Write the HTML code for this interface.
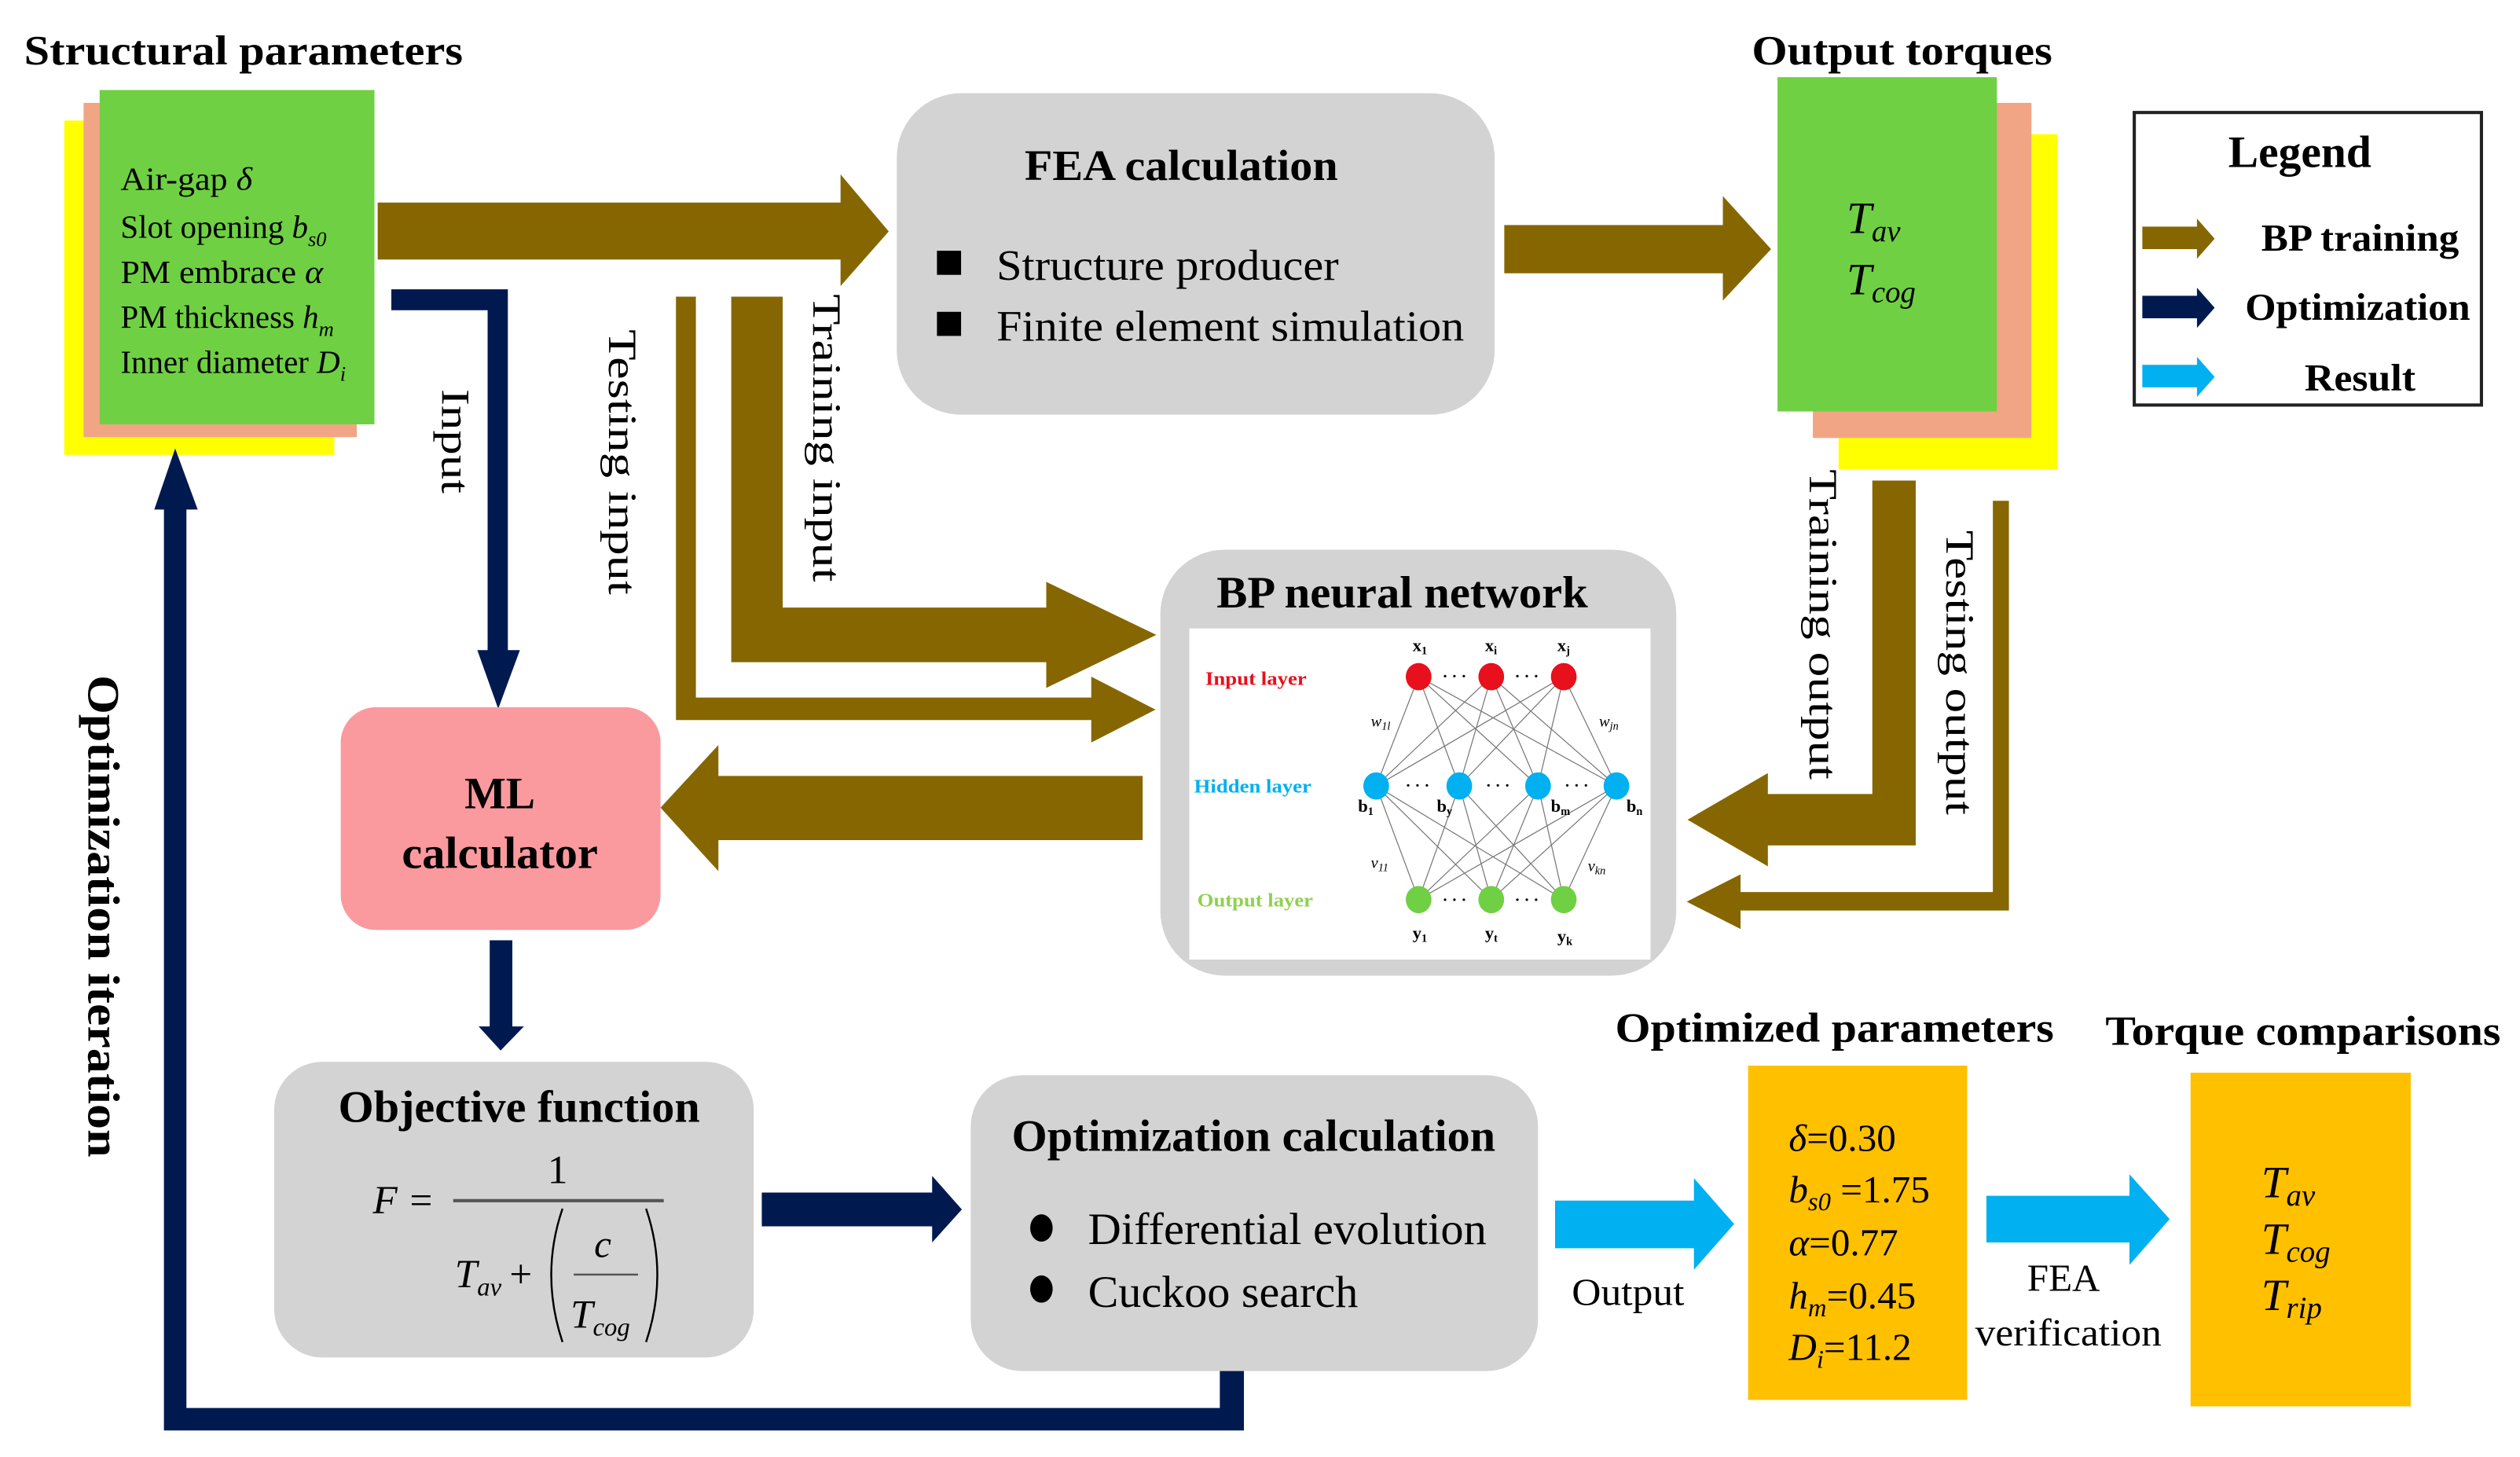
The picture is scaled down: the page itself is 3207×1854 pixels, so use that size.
<!DOCTYPE html>
<html><head><meta charset="utf-8"><style>
html,body{margin:0;padding:0;background:#fff;}
svg{display:block;}
text{font-family:"Liberation Serif","Times New Roman",Times,serif;}
.b{font-weight:bold;}
.i{font-style:italic;}
</style></head><body>
<svg width="3207" height="1854" viewBox="0 0 1568 906.5" preserveAspectRatio="none" xmlns="http://www.w3.org/2000/svg" font-family="Liberation Serif, serif">
<rect width="1568" height="906.5" fill="#fff"/>

<!-- Structural parameters -->
<text x="15" y="40" class="b" font-size="26" textLength="273" lengthAdjust="spacingAndGlyphs">Structural parameters</text>
<rect x="40" y="75" width="168" height="208" fill="#ffff00"/>
<rect x="52" y="64" width="170" height="208" fill="#f2a585"/>
<rect x="62" y="56" width="171" height="208" fill="#6fd043"/>
<g font-size="20">
<text x="75" y="118" textLength="82" lengthAdjust="spacingAndGlyphs">Air-gap <tspan class="i">δ</tspan></text>
<text x="75" y="148">Slot opening <tspan class="i">b</tspan><tspan class="i" font-size="13" dy="5">s0</tspan></text>
<text x="75" y="176" textLength="126" lengthAdjust="spacingAndGlyphs">PM embrace <tspan class="i">α</tspan></text>
<text x="75" y="204">PM thickness <tspan class="i">h</tspan><tspan class="i" font-size="13" dy="5">m</tspan></text>
<text x="75" y="232">Inner diameter <tspan class="i">D</tspan><tspan class="i" font-size="13" dy="5">i</tspan></text>
</g>

<!-- Arrow to FEA -->
<polygon points="235,126 523,126 523,108.5 553,144 523,178 523,161.5 235,161.5" fill="#866600"/>

<!-- FEA box -->
<rect x="558" y="58" width="372" height="200" rx="40" fill="#d3d3d3"/>
<text x="735" y="112" class="b" font-size="27" text-anchor="middle" textLength="195" lengthAdjust="spacingAndGlyphs">FEA calculation</text>
<rect x="583" y="156" width="15" height="15" fill="#000"/>
<rect x="583" y="194" width="15" height="15" fill="#000"/>
<text x="620" y="174" font-size="27" textLength="213" lengthAdjust="spacingAndGlyphs">Structure producer</text>
<text x="620" y="212" font-size="27" textLength="291" lengthAdjust="spacingAndGlyphs">Finite element simulation</text>

<!-- Arrow FEA -> Output -->
<polygon points="936,140 1072,140 1072,122 1102,155 1072,187 1072,170 936,170" fill="#866600"/>

<!-- Output torques -->
<text x="1090" y="40" class="b" font-size="26" textLength="187" lengthAdjust="spacingAndGlyphs">Output torques</text>
<rect x="1144" y="83.5" width="136" height="208.5" fill="#ffff00"/>
<rect x="1128" y="64" width="136" height="208.5" fill="#f2a585"/>
<rect x="1106" y="48" width="136.5" height="208" fill="#6fd043"/>
<text x="1149" y="145" class="i" font-size="28">T<tspan font-size="19" dy="5">av</tspan></text>
<text x="1149" y="183" class="i" font-size="28">T<tspan font-size="19" dy="5">cog</tspan></text>

<!-- Legend -->
<rect x="1328" y="70" width="216" height="182" fill="#fff" stroke="#222" stroke-width="2"/>
<text x="1431" y="104" class="b" font-size="28" text-anchor="middle" textLength="89" lengthAdjust="spacingAndGlyphs">Legend</text>
<polygon points="1333,141 1367,141 1367,136 1378,148.5 1367,161 1367,155 1333,155" fill="#866600"/>
<polygon points="1333,184 1367,184 1367,179 1378,191.5 1367,204 1367,198 1333,198" fill="#001a50"/>
<polygon points="1333,227 1367,227 1367,222 1378,234.5 1367,247 1367,241 1333,241" fill="#00b0f0"/>
<text x="1407" y="156" class="b" font-size="24" textLength="123" lengthAdjust="spacingAndGlyphs">BP training</text>
<text x="1397" y="199" class="b" font-size="24" textLength="140" lengthAdjust="spacingAndGlyphs">Optimization</text>
<text x="1434" y="243" class="b" font-size="24" textLength="69" lengthAdjust="spacingAndGlyphs">Result</text>

<!-- Training output arrow -->
<polygon points="1192,299 1165,299 1165,494 1100,494 1100,481 1050,510 1100,539 1100,526 1192,526" fill="#866600"/>
<!-- Testing output arrow -->
<polygon points="1250,311.6 1240,311.6 1240,555 1083,555 1083,544 1049.5,561 1083,578 1083,566.5 1250,566.5" fill="#866600"/>
<g font-size="25">
<text transform="translate(1135,388.5) rotate(90)" y="9" text-anchor="middle" textLength="193" lengthAdjust="spacingAndGlyphs">Training output</text>
<text transform="translate(1220,418.5) rotate(90)" y="9" text-anchor="middle" textLength="177" lengthAdjust="spacingAndGlyphs">Testing output</text>
</g>

<!-- Training input arrow -->
<polygon points="455,184.6 487,184.6 487,378 651,378 651,362 719.5,395 651,428 651,412 455,412" fill="#866600"/>
<!-- Testing input arrow -->
<polygon points="420.6,184.6 433,184.6 433,434 679,434 679,421 719,441.5 679,462 679,448 420.6,448" fill="#866600"/>
<g font-size="25">
<text transform="translate(388,287.5) rotate(90)" y="9" text-anchor="middle" textLength="165" lengthAdjust="spacingAndGlyphs">Testing input</text>
<text transform="translate(515,272.5) rotate(90)" y="9" text-anchor="middle" textLength="179" lengthAdjust="spacingAndGlyphs">Training input</text>
<text transform="translate(284,274.5) rotate(90)" y="9" text-anchor="middle" textLength="65" lengthAdjust="spacingAndGlyphs">Input</text>
</g>

<!-- Input navy arrow -->
<polygon points="243.5,180 316,180 316,404.5 323.5,404.5 310,441 297,404.5 303.4,404.5 303.4,193 243.5,193" fill="#001a50"/>

<!-- Optimization iteration loop -->
<polygon points="102,890 774,890 774,847.5 759,847.5 759,876 116,876 116,317 123,317 109,279 96,317 102,317" fill="#001a50"/>
<text transform="translate(65,570) rotate(90)" y="10" class="b" font-size="28" text-anchor="middle" textLength="300" lengthAdjust="spacingAndGlyphs">Optimization iteration</text>

<!-- ML calculator -->
<rect x="212" y="440" width="199" height="138.6" rx="22" fill="#fa9a9e"/>
<text x="311" y="503" class="b" font-size="28" text-anchor="middle" textLength="44" lengthAdjust="spacingAndGlyphs">ML</text>
<text x="311" y="540" class="b" font-size="28" text-anchor="middle" textLength="122" lengthAdjust="spacingAndGlyphs">calculator</text>

<!-- BP -> ML arrow -->
<polygon points="711,482.8 447,482.8 447,463.5 411,502.5 447,542 447,522.7 711,522.7" fill="#866600"/>

<!-- BP neural network box -->
<rect x="722" y="342" width="321" height="265" rx="40" fill="#d3d3d3"/>
<text x="757" y="378" class="b" font-size="28" textLength="231" lengthAdjust="spacingAndGlyphs">BP neural network</text>
<rect x="740" y="391" width="287" height="206" fill="#fff"/>
<g stroke="#777" stroke-width="0.6">
<line x1="882.7" y1="421" x2="856.3" y2="489"/><line x1="882.7" y1="421" x2="908" y2="489"/><line x1="882.7" y1="421" x2="957" y2="489"/><line x1="882.7" y1="421" x2="1005.8" y2="489"/>
<line x1="927.9" y1="421" x2="856.3" y2="489"/><line x1="927.9" y1="421" x2="908" y2="489"/><line x1="927.9" y1="421" x2="957" y2="489"/><line x1="927.9" y1="421" x2="1005.8" y2="489"/>
<line x1="973" y1="421" x2="856.3" y2="489"/><line x1="973" y1="421" x2="908" y2="489"/><line x1="973" y1="421" x2="957" y2="489"/><line x1="973" y1="421" x2="1005.8" y2="489"/>
<line x1="856.3" y1="489" x2="882.7" y2="559.7"/><line x1="856.3" y1="489" x2="927.9" y2="559.7"/><line x1="856.3" y1="489" x2="973" y2="559.7"/>
<line x1="908" y1="489" x2="882.7" y2="559.7"/><line x1="908" y1="489" x2="927.9" y2="559.7"/><line x1="908" y1="489" x2="973" y2="559.7"/>
<line x1="957" y1="489" x2="882.7" y2="559.7"/><line x1="957" y1="489" x2="927.9" y2="559.7"/><line x1="957" y1="489" x2="973" y2="559.7"/>
<line x1="1005.8" y1="489" x2="882.7" y2="559.7"/><line x1="1005.8" y1="489" x2="927.9" y2="559.7"/><line x1="1005.8" y1="489" x2="973" y2="559.7"/>
</g>
<g fill="#e8101c"><ellipse cx="882.7" cy="421" rx="8" ry="8.5"/><ellipse cx="927.9" cy="421" rx="8" ry="8.5"/><ellipse cx="973" cy="421" rx="8" ry="8.5"/></g>
<g fill="#00b0f0"><ellipse cx="856.3" cy="489" rx="8" ry="8.5"/><ellipse cx="908" cy="489" rx="8" ry="8.5"/><ellipse cx="957" cy="489" rx="8" ry="8.5"/><ellipse cx="1005.8" cy="489" rx="8" ry="8.5"/></g>
<g fill="#6fd043"><ellipse cx="882.7" cy="559.7" rx="8" ry="8.5"/><ellipse cx="927.9" cy="559.7" rx="8" ry="8.5"/><ellipse cx="973" cy="559.7" rx="8" ry="8.5"/></g>
<g font-size="10" class="b" text-anchor="middle">
<text x="905" y="424">· · ·</text><text x="950" y="424">· · ·</text>
<text x="882" y="492">· · ·</text><text x="932" y="492">· · ·</text><text x="981" y="492">· · ·</text>
<text x="905" y="563">· · ·</text><text x="950" y="563">· · ·</text>
</g>
<text x="750" y="426" fill="#e8101c" font-size="12" font-weight="bold" textLength="63" lengthAdjust="spacingAndGlyphs">Input layer</text>
<text x="743" y="493" fill="#00b0f0" font-size="12" font-weight="bold" textLength="73" lengthAdjust="spacingAndGlyphs">Hidden layer</text>
<text x="745" y="564" fill="#8fd14f" font-size="12" font-weight="bold" textLength="72" lengthAdjust="spacingAndGlyphs">Output layer</text>
<g font-size="11" class="b">
<text x="879" y="405">x<tspan font-size="7" dy="2">1</tspan></text>
<text x="924" y="405">x<tspan font-size="7" dy="2">i</tspan></text>
<text x="969" y="405">x<tspan font-size="7" dy="2">j</tspan></text>
<text x="879" y="584">y<tspan font-size="7" dy="2">1</tspan></text>
<text x="924" y="584">y<tspan font-size="7" dy="2">t</tspan></text>
<text x="969" y="586">y<tspan font-size="7" dy="2">k</tspan></text>
<text x="845" y="505">b<tspan font-size="7" dy="2">1</tspan></text>
<text x="894" y="505">b<tspan font-size="7" dy="2">y</tspan></text>
<text x="965" y="505">b<tspan font-size="7" dy="2">m</tspan></text>
<text x="1012" y="505">b<tspan font-size="7" dy="2">n</tspan></text>
</g>
<g font-size="10" class="i">
<text x="853" y="452">w<tspan font-size="7" dy="2">1l</tspan></text>
<text x="995" y="452">w<tspan font-size="7" dy="2">jn</tspan></text>
<text x="853" y="540">v<tspan font-size="7" dy="2">11</tspan></text>
<text x="988" y="542">v<tspan font-size="7" dy="2">kn</tspan></text>
</g>

<!-- ML -> Objective -->
<polygon points="304.7,585 318.8,585 318.8,638.6 326,638.6 311.5,653.6 297.8,638.6 304.7,638.6" fill="#001a50"/>

<!-- Objective function -->
<rect x="170.6" y="660.6" width="298.4" height="184" rx="30" fill="#d3d3d3"/>
<text x="323" y="698" class="b" font-size="28" text-anchor="middle" textLength="225" lengthAdjust="spacingAndGlyphs">Objective function</text>
<text x="232" y="755" class="i" font-size="25">F</text>
<text x="255" y="755" font-size="25">=</text>
<line x1="282" y1="747" x2="413" y2="747" stroke="#555" stroke-width="2"/>
<text x="347" y="736" font-size="25" text-anchor="middle">1</text>
<text x="283" y="801" class="i" font-size="25">T<tspan font-size="16" dy="5">av</tspan></text>
<text x="317" y="801" font-size="25">+</text>
<path d="M350,752 Q336,793 350,835" fill="none" stroke="#000" stroke-width="1.2"/>
<path d="M402,752 Q416,793 402,835" fill="none" stroke="#000" stroke-width="1.2"/>
<text x="375" y="782" class="i" font-size="24" text-anchor="middle">c</text>
<line x1="357" y1="793" x2="397" y2="793" stroke="#555" stroke-width="1.2"/>
<text x="355" y="826" class="i" font-size="25">T<tspan font-size="16" dy="5">cog</tspan></text>

<!-- Obj -> Opt arrow -->
<polygon points="474,742 580,742 580,731.6 598.5,752.5 580,773 580,763 474,763" fill="#001a50"/>

<!-- Optimization calculation -->
<rect x="604" y="669" width="353" height="184" rx="32" fill="#d3d3d3"/>
<text x="780" y="716" class="b" font-size="28" text-anchor="middle" textLength="301" lengthAdjust="spacingAndGlyphs">Optimization calculation</text>
<ellipse cx="648" cy="764" rx="7" ry="8.5" fill="#000"/>
<ellipse cx="648" cy="802" rx="7" ry="8.5" fill="#000"/>
<text x="677" y="774" font-size="28" textLength="248" lengthAdjust="spacingAndGlyphs">Differential evolution</text>
<text x="677" y="813" font-size="28" textLength="168" lengthAdjust="spacingAndGlyphs">Cuckoo search</text>

<!-- Output cyan arrow -->
<polygon points="967.6,747 1054,747 1054,733 1079,761.5 1054,790 1054,776.6 967.6,776.6" fill="#00b0f0"/>
<text x="978" y="812" font-size="24" textLength="70" lengthAdjust="spacingAndGlyphs">Output</text>

<!-- Optimized parameters -->
<text x="1005" y="648" class="b" font-size="26" textLength="273" lengthAdjust="spacingAndGlyphs">Optimized parameters</text>
<rect x="1087.7" y="663" width="136.3" height="208" fill="#ffc000"/>
<g font-size="24">
<text x="1113" y="716"><tspan class="i">δ</tspan>=0.30</text>
<text x="1113" y="748"><tspan class="i">b</tspan><tspan class="i" font-size="16" dy="5">s0</tspan><tspan dy="-5"> =1.75</tspan></text>
<text x="1113" y="781"><tspan class="i">α</tspan>=0.77</text>
<text x="1113" y="814"><tspan class="i">h</tspan><tspan class="i" font-size="16" dy="5">m</tspan><tspan dy="-5">=0.45</tspan></text>
<text x="1113" y="846"><tspan class="i">D</tspan><tspan class="i" font-size="16" dy="5">i</tspan><tspan dy="-5">=11.2</tspan></text>
</g>

<!-- FEA verification arrow -->
<polygon points="1236,744 1325,744 1325,730.6 1350,758.5 1325,787 1325,773 1236,773" fill="#00b0f0"/>
<text x="1284" y="803" font-size="24" text-anchor="middle">FEA</text>
<text x="1287" y="837" font-size="24" text-anchor="middle" textLength="116" lengthAdjust="spacingAndGlyphs">verification</text>

<!-- Torque comparisons -->
<text x="1310" y="650" class="b" font-size="26" textLength="246" lengthAdjust="spacingAndGlyphs">Torque comparisons</text>
<rect x="1363" y="667.4" width="137" height="207.6" fill="#ffc000"/>
<g class="i" font-size="28">
<text x="1407" y="745">T<tspan font-size="19" dy="5">av</tspan></text>
<text x="1407" y="780">T<tspan font-size="19" dy="5">cog</tspan></text>
<text x="1407" y="815">T<tspan font-size="19" dy="5">rip</tspan></text>
</g>
</svg>
</body></html>
